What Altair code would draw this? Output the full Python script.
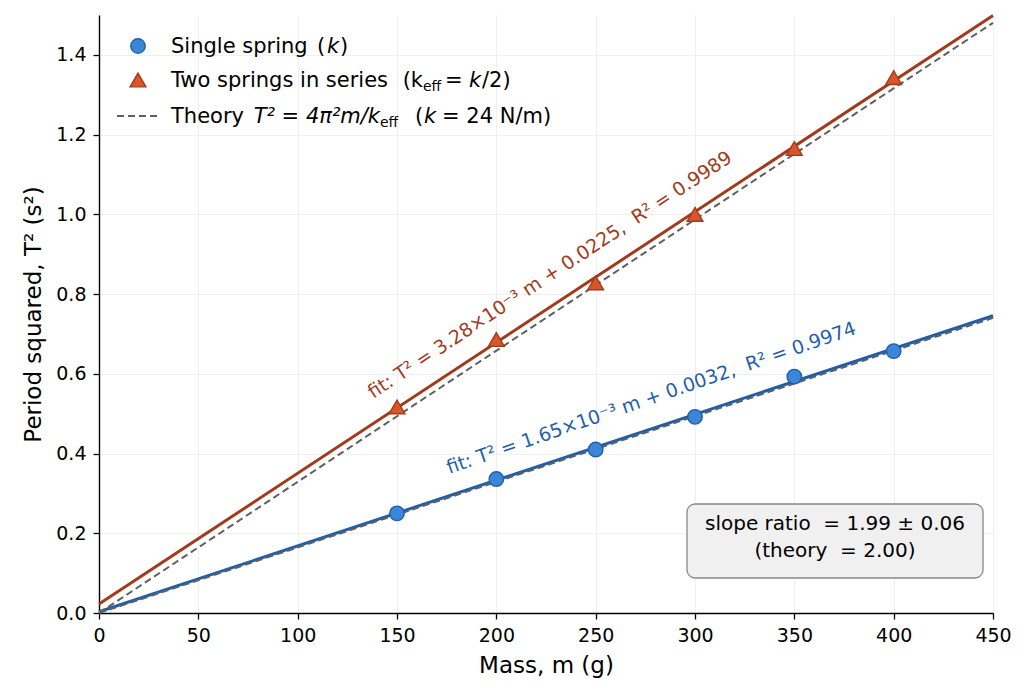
import altair as alt
import pandas as pd

# ---- data ----
mass_g = [150, 200, 250, 300, 350, 400]
single_T2 = [0.250, 0.336, 0.410, 0.492, 0.593, 0.657]
series_T2 = [0.517, 0.686, 0.828, 1.000, 1.165, 1.343]

line_x = [0, 450]
fit_single_y = [0.0032, 0.7457]
fit_series_y = [0.0225, 1.4985]
theory_single_y = [0.0, 0.7402]
theory_series_y = [0.0, 1.4804]

x_ticks = [0, 50, 100, 150, 200, 250, 300, 350, 400, 450]
y_ticks = [0.0, 0.2, 0.4, 0.6, 0.8, 1.0, 1.2, 1.4]

BLUE_LINE = "#1f5fa8"
BLUE_FILL = "#3a86d8"
RED_LINE = "#a23b1c"
RED_FILL = "#d9552b"
GRAY = "#606060"
FONT = "DejaVu Sans"
NB = "\u00a0"

pts_single = pd.DataFrame({"m": mass_g, "T2": single_T2})
pts_series = pd.DataFrame({"m": mass_g, "T2": series_T2})
fit_single = pd.DataFrame({"m": line_x, "T2": fit_single_y})
fit_series = pd.DataFrame({"m": line_x, "T2": fit_series_y})
th = pd.DataFrame({
    "m": line_x + line_x,
    "T2": theory_single_y + theory_series_y,
    "s": ["single", "single", "series", "series"],
})

xs = alt.Scale(domain=[0, 450], nice=False, zero=False)
ys = alt.Scale(domain=[0, 1.5], nice=False)

X = alt.X("m:Q", scale=xs, title="Mass, m (g)",
          axis=alt.Axis(values=x_ticks, format="d"))
Y = alt.Y("T2:Q", scale=ys, title="Period squared, T² (s²)",
          axis=alt.Axis(values=y_ticks, format=".1f"))

fit_s = alt.Chart(fit_single).mark_line(color=BLUE_LINE, strokeWidth=3).encode(x=X, y=Y)
fit_r = alt.Chart(fit_series).mark_line(color=RED_LINE, strokeWidth=3).encode(x=X, y=Y)
theory = alt.Chart(th).mark_line(color=GRAY, strokeWidth=2, strokeDash=[7, 4]).encode(
    x=X, y=Y, detail="s:N")
p_s = alt.Chart(pts_single).mark_point(
    shape="circle", filled=True, size=210, fill=BLUE_FILL, stroke=BLUE_LINE,
    strokeWidth=1.4, opacity=1).encode(x=X, y=Y)
p_r = alt.Chart(pts_series).mark_point(
    shape="triangle-up", filled=True, size=250, fill=RED_FILL, stroke=RED_LINE,
    strokeWidth=1.4, opacity=1).encode(x=X, y=Y)

ann = pd.DataFrame({
    "m": [227, 278],
    "T2": [0.848, 0.539],
    "label": [f"fit: T² = 3.28×10⁻³ m + 0.0225,{NB}{NB}R² = 0.9989",
              f"fit: T² = 1.65×10⁻³ m + 0.0032,{NB}{NB}R² = 0.9974"],
})
ann_r = alt.Chart(ann.iloc[[0]]).mark_text(
    angle=326.5, color=RED_LINE, fontSize=19, font=FONT).encode(x=X, y=Y, text="label:N")
ann_b = alt.Chart(ann.iloc[[1]]).mark_text(
    angle=341, color=BLUE_LINE, fontSize=19, font=FONT).encode(x=X, y=Y, text="label:N")

# legend (drawn manually)
LF = 21
leg = []
leg.append(alt.Chart().mark_point(shape="circle", filled=True, size=210, fill=BLUE_FILL,
                                  stroke=BLUE_LINE, strokeWidth=1.4, opacity=1)
           .encode(x=alt.value(39), y=alt.value(31)))
leg.append(alt.Chart().mark_point(shape="triangle-up", filled=True, size=250, fill=RED_FILL,
                                  stroke=RED_LINE, strokeWidth=1.4, opacity=1)
           .encode(x=alt.value(39), y=alt.value(65)))
leg.append(alt.Chart().mark_rule(color=GRAY, strokeWidth=2, strokeDash=[7, 4])
           .encode(x=alt.value(18), x2=alt.value(61), y=alt.value(101)))


def txt(x, y, s, size=LF, style="normal", align="left"):
    return alt.Chart().mark_text(align=align, baseline="alphabetic", fontSize=size,
                                 font=FONT, color="black", fontStyle=style).encode(
        x=alt.value(x), y=alt.value(y), text=alt.value(s))


B1, B2, B3 = 38, 72, 108  # baselines of the legend rows
leg.append(txt(72, B1, "Single spring"))
leg.append(txt(218, B1, "("))
leg.append(txt(228, B1, "k", style="italic"))
leg.append(txt(241, B1, ")"))

leg.append(txt(72, B2, "Two springs in series"))
leg.append(txt(324, B2, "(k", align="right"))
leg.append(txt(324, B2 + 4, "eff", size=14))
leg.append(txt(346, B2, "="))
leg.append(txt(370, B2, "k", style="italic"))
leg.append(txt(383, B2, "/2)"))

leg.append(txt(72, B3, "Theory"))
leg.append(txt(281, B3, "T² = 4π²m/k", style="italic", align="right"))
leg.append(txt(281, B3 + 4, "eff", size=14))
leg.append(txt(316, B3, "("))
leg.append(txt(325, B3, "k", style="italic"))
leg.append(txt(343, B3, "= 24 N/m)"))

box = alt.Chart().mark_rect(cornerRadius=8, fill="#f0f0f0", stroke="#888888",
                            strokeWidth=1.3).encode(
    x=alt.value(588), x2=alt.value(884), y=alt.value(489), y2=alt.value(563))
box_t1 = alt.Chart().mark_text(fontSize=20, font=FONT, color="black", baseline="middle").encode(
    x=alt.value(736), y=alt.value(509), text=alt.value(f"slope ratio{NB} = 1.99 ± 0.06"))
box_t2 = alt.Chart().mark_text(fontSize=20, font=FONT, color="black", baseline="middle").encode(
    x=alt.value(736), y=alt.value(536), text=alt.value(f"(theory{NB} = 2.00)"))

chart = alt.layer(
    fit_s, fit_r, theory, p_s, p_r, ann_r, ann_b, *leg, box, box_t1, box_t2
).properties(
    width=894, height=598,
    autosize=alt.AutoSizeParams(type="none"),
    padding={"left": 99, "top": 15, "right": 36, "bottom": 86},
).configure_view(stroke=None).configure_axis(
    labelFont=FONT, titleFont=FONT, labelFontSize=19, titleFontSize=23,
    titleFontWeight="normal", labelColor="black", titleColor="black",
    domainColor="black", domainWidth=1.4, tickColor="black", tickSize=6, tickWidth=1.3,
    gridColor="#ececec", gridWidth=0.8, labelFlush=False, labelPadding=7,
).configure_axisX(titlePadding=9).configure_axisY(titlePadding=10)

chart.save("out.html", embed_options={"renderer": "svg", "actions": False})
